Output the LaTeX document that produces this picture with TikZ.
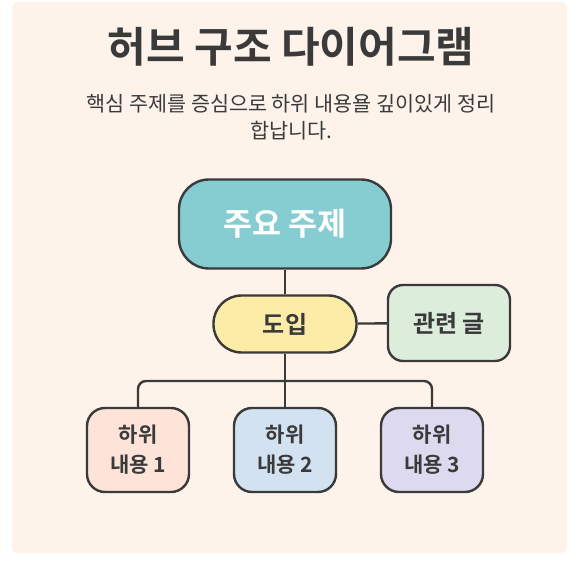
\documentclass[tikz,border=0pt]{standalone}
\usepackage{fontspec}
\setmainfont{Noto Sans CJK KR}[BoldFont={Noto Sans CJK KR Bold}]
\usetikzlibrary{positioning}
\definecolor{panelbg}{HTML}{FDF3EA}
\definecolor{inkdark}{HTML}{3A3A3A}
\definecolor{hubfill}{HTML}{86CDD2}
\definecolor{introfill}{HTML}{FDEBA8}
\definecolor{sidefill}{HTML}{DDEDDC}
\definecolor{leafA}{HTML}{FDE3D8}
\definecolor{leafB}{HTML}{D3E2F1}
\definecolor{leafC}{HTML}{DDD9EE}
\tikzset{x=1pt, y=-1pt,
every box/.style={ % Sets the properties for each box
draw=inkdark,
line width=2.4pt,
text=inkdark,
font=\bfseries,
align=center,
inner sep=0pt},
hub/.style={every box, fill=hubfill, text=white,
minimum width=212, minimum height=89, rounded corners=30,
font=\fontsize{31.5}{38}\selectfont\bfseries},
intro/.style={every box, fill=introfill,
minimum width=143, minimum height=57, rounded corners=28,
font=\fontsize{24}{29}\selectfont\bfseries},
side/.style={every box, fill=sidefill,
minimum width=122, minimum height=76, rounded corners=15,
font=\fontsize{24}{29}\selectfont\bfseries},
leaf/.style={every box,
minimum width=102, minimum height=84, rounded corners=18,
font=\fontsize{21}{30}\selectfont\bfseries},
link/.style={ % Sets the properties for each connector
draw=inkdark,
line width=2.4pt}}
\begin{document}
\begin{tikzpicture}
\useasboundingbox (0,0) rectangle (579,561);
\fill[panelbg, rounded corners=6] (12,2) rectangle (567,553);
\node[text=inkdark, font=\fontsize{42}{50}\selectfont\bfseries] (title) at (291,47) {허브 구조 다이어그램};
\node[text=inkdark, align=center, font=\fontsize{20.7}{27}\selectfont] (subtitle) at (291,117) {핵심 주제를 증심으로 하위 내용욜 깊이있게 정리\\합납니다.};
\node[hub] (main) at (285,224) {주요 주제};
\node[intro] (intro) at (285,324) {도입};
\node[side] (related) at (449,323) {관련 글};
\node[leaf, fill=leafA] (sub1) at (138,450) {하위\\내용 1};
\node[leaf, fill=leafB] (sub2) at (285,450) {하위\\내용 2};
\node[leaf, fill=leafC] (sub3) at (432,450) {하위\\내용 3};
\coordinate (bus) at (285,381);
\draw[link] (main) -- (intro);
\draw[link] (intro) -- (related);
\draw[link] (intro) -- (sub2);
\draw[link, rounded corners=8] (sub1.north) |- (bus) -| (sub3.north);
\end{tikzpicture}
\end{document}
